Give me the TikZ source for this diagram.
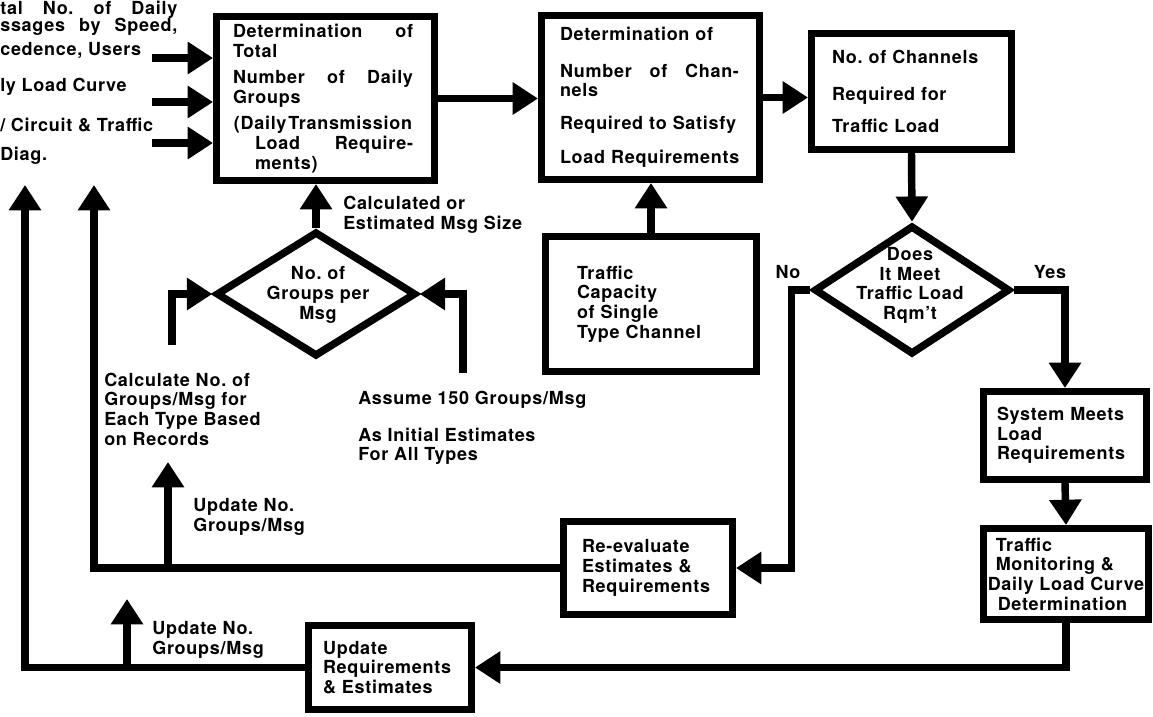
\documentclass[tikz,border=0pt]{standalone}
\usepackage{fontspec}
\setmainfont{TeX Gyre Heros}[LetterSpace=4]
\usepackage{tikz}
\usetikzlibrary{arrows.meta,shapes.geometric}
\newlength\pxl
\setlength\pxl{0.025cm}
\frenchspacing

\begin{document}
\begin{tikzpicture}[x=0.025cm, y=-0.025cm,
  every node/.style={font=\bfseries\fontsize{12.8}{14}\selectfont},
  box/.style={draw, line width=5.3pt, inner sep=0pt, align=left},
  dia/.style={draw, diamond, line width=5.3pt, inner sep=0pt},
  txt/.style={inner sep=0pt, align=left},
  wire/.style={line width=5.3pt},
  flow/.style={wire, -{Triangle[length=18pt, width=22pt]}}]
  \useasboundingbox (0,0) rectangle (1153,717);
  \clip (0,0) rectangle (1153,717);

  % boxes of the top row
  \node[box, minimum width=217.5*\pxl, minimum height=163.5*\pxl, text width=185*\pxl] (det) at (325.5,98.5)
    {\makebox[180\pxl]{Determination\hfill of}\\
     Total\\[4.5pt]
     \makebox[180\pxl]{Number\hfill of\hfill Daily}\\
     Groups\\[5pt]
     \makebox[180\pxl]{(Daily\hspace{0.1em}Transmission}\\
     \hspace*{22\pxl}\makebox[158\pxl]{Load\hfill Require-}\\
     \hspace*{22\pxl}ments)};
  \node[box, minimum width=217.5*\pxl, minimum height=163.5*\pxl, text width=181*\pxl] (chan) at (650.5,97.5)
    {Determination of\\[12pt]
     \makebox[179\pxl]{Number\hfill of\hfill Chan-}\\
     nels\\[9pt]
     Required to Satisfy\\[10.5pt]
     Load Requirements};
  \node[box, minimum width=199.5*\pxl, minimum height=115.5*\pxl, text width=159*\pxl] (need) at (911.5,91.5)
    {No. of Channels\\[12pt] Required for\\[9pt] Traffic Load};
  \node[box, minimum width=210.5*\pxl, minimum height=134.5*\pxl, text width=148*\pxl] (cap) at (651,304)
    {Traffic\\Capacity\\of Single\\Type Channel};

  % decisions
  \node[dia, minimum width=200*\pxl, minimum height=125*\pxl] (grp) at (316,294) {};
  \node[txt, align=center] (grptxt) at (318,295) {No. of\\Groups per\\Msg};
  \node[dia, minimum width=196*\pxl, minimum height=129*\pxl] (meet) at (912,290) {};
  \node[txt, align=center] (meettxt) at (910,285.5) {Does\\It Meet\\Traffic Load\\Rqm't};

  % boxes of the right column and the bottom
  \node[box, minimum width=162.5*\pxl, minimum height=87.5*\pxl, text width=136*\pxl] (sys) at (1065,435.5)
    {System Meets\\Load\\Requirements};
  \node[box, minimum width=164.5*\pxl, minimum height=90.5*\pxl] (mon) at (1066,574)
    {\hspace*{8\pxl}Traffic\\ \hspace*{8\pxl}Monitoring \&\\ Daily Load Curve\\ \hspace*{10\pxl}Determination};
  \node[box, minimum width=168.5*\pxl, minimum height=92.5*\pxl, text width=132*\pxl] (reval) at (648,568)
    {Re-evaluate\\Estimates \&\\Requirements};
  \node[box, minimum width=162.5*\pxl, minimum height=83.5*\pxl, text width=134*\pxl] (upd) at (390,667.5)
    {Update\\Requirements\\\& Estimates};

  % inputs at the left edge
  \node[txt, anchor=north west] (msgs) at (0,1)
    {\makebox[177\pxl]{tal\hfill No.\hfill of\hfill Daily}\\[-2pt]
     \makebox[177\pxl]{ssages\hfill by\hfill Speed,}\\[3pt]
     cedence, Users};
  \node[txt, anchor=west] (curve) at (0,87) {ly Load Curve};
  \node[txt, anchor=west] (diag) at (0,141) {/ Circuit \& Traffic\\[6.5pt]Diag.};

  % free labels
  \node[txt, anchor=west] (size) at (343,215) {Calculated or\\Estimated Msg Size};
  \node[txt, anchor=west] (calc) at (104,409) {Calculate No. of\\Groups/Msg for\\Each Type Based\\on Records};
  \node[txt, anchor=west] (asm) at (358,428) {Assume 150 Groups/Msg\\[12pt]As Initial Estimates\\For All Types};
  \node[txt, anchor=west] (updA) at (193,517) {Update No.\\Groups/Msg};
  \node[txt, anchor=west] (updB) at (152,640) {Update No.\\Groups/Msg};
  \node[txt] (no) at (788,272) {No};
  \node[txt] (yes) at (1050,272) {Yes};

  % free ends
  \coordinate (calcin) at (172,345);
  \coordinate (asmin) at (463,373);
  \coordinate (loopA) at (94,185);
  \coordinate (loopB) at (25,185);
  \coordinate (tipA) at (168,462);
  \coordinate (tipB) at (127,599);

  % connectors
  \foreach \y [count=\i] in {58,102,143}{
    \coordinate (in\i) at (152,\y);
    \draw[flow] (in\i) -- (in\i -| det.west);
  }
  \draw[flow] (det.east) -- (det.east -| chan.west);
  \draw[flow] (chan.east) -- (chan.east -| need.west);
  \draw[flow] (need.south) -- (meet.north);
  \draw[flow] (cap.north) -- (cap.north |- chan.south);
  \draw[flow] (grp.north) -- (grp.north |- det.south);
  \draw[flow] (calcin) |- (grp.west);
  \draw[flow] (asmin) |- (grp.east);
  \draw[flow] (meet.west) -- ++(-19,0) |- (reval.east);
  \draw[flow] (meet.east) -| (sys.north);
  \draw[flow] (sys.south) -- (mon.north);
  \draw[flow] (mon.south) |- (upd.east);
  \draw[flow] (reval.west) -| (loopA);
  \draw[flow] (upd.west) -| (loopB);
  \draw[flow] (tipA |- reval.west) -- (tipA);
  \draw[flow] (tipB |- upd.west) -- (tipB);
\end{tikzpicture}
\end{document}
